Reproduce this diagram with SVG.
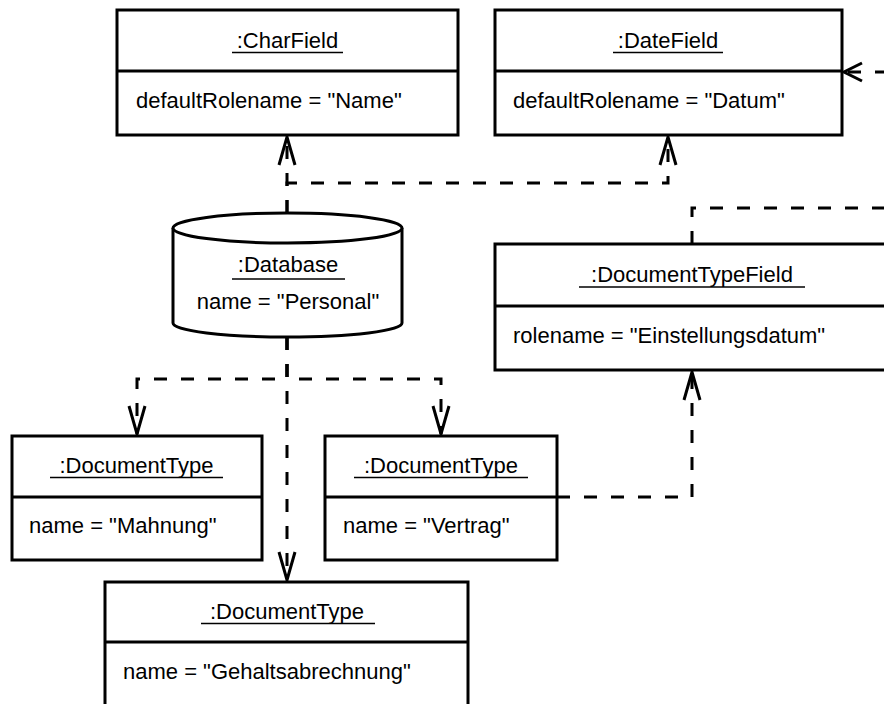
<svg xmlns="http://www.w3.org/2000/svg" width="884" height="704" viewBox="0 0 884 704">
  <style>
    .box { fill: #fff; stroke: #000; stroke-width: 3; }
    .sep { stroke: #000; stroke-width: 3; }
    .ul { stroke: #000; stroke-width: 1.5; }
    .t { font-family: "Liberation Sans", Arial, sans-serif; font-size: 22px; fill: #000; }
    .c { text-anchor: middle; }
    .dep { fill: none; stroke: #000; stroke-width: 3; stroke-dasharray: 13 14; marker-end: url(#open); }
  </style>
  <defs>
    <marker id="open" markerUnits="userSpaceOnUse" markerWidth="32" markerHeight="22" viewBox="-2 -3 32 22" refX="28" refY="8" orient="auto">
      <path d="M0,0 L28,8 L0,16" fill="none" stroke="#000" stroke-width="3" stroke-dasharray="none"/>
    </marker>
    <marker id="openShort" markerUnits="userSpaceOnUse" markerWidth="24" markerHeight="24" viewBox="-2 -3 24 24" refX="18" refY="9" orient="auto">
      <path d="M0,0 L18,9 L0,18" fill="none" stroke="#000" stroke-width="3" stroke-dasharray="none"/>
    </marker>
  </defs>

  <!-- dependency connectors -->
  <g id="connectors">
    <path class="dep" d="M287,213 V137"/>
    <path class="dep" d="M287,213 V183 H668 V137"/>
    <path class="dep" d="M287,337 V580"/>
    <path class="dep" d="M287,337 V379 H137 V434"/>
    <path class="dep" d="M287,337 V379 H441 V434"/>
    <path class="dep" d="M557,497 H692 V372"/>
    <path class="dep" d="M692,244 V208 H920 V72 H844" style="marker-end: url(#openShort)"/>
  </g>

  <g id="charField">
    <rect class="box" x="117" y="10" width="341" height="125"/>
    <line class="sep" x1="117" y1="71" x2="458" y2="71"/>
    <text class="t c" x="287.5" y="48">:CharField</text>
    <line class="ul" x1="232" y1="52.5" x2="343" y2="52.5"/>
    <text class="t" x="136" y="108">defaultRolename = "Name"</text>
  </g>

  <g id="dateField">
    <rect class="box" x="495" y="10" width="347" height="125"/>
    <line class="sep" x1="495" y1="71" x2="842" y2="71"/>
    <text class="t c" x="668" y="48">:DateField</text>
    <line class="ul" x1="613" y1="52.5" x2="723" y2="52.5"/>
    <text class="t" x="513" y="108">defaultRolename = "Datum"</text>
  </g>

  <g id="database">
    <path class="box" d="M173,228 V323 A114.5,14 0 0 0 402,323 V228"/>
    <ellipse class="box" cx="287.5" cy="228" rx="114.5" ry="15"/>
    <text class="t c" x="288" y="272">:Database</text>
    <line class="ul" x1="232" y1="279" x2="345" y2="279"/>
    <text class="t c" x="288" y="309">name = "Personal"</text>
  </g>

  <g id="documentTypeField">
    <rect class="box" x="495" y="244" width="394" height="126"/>
    <line class="sep" x1="495" y1="306" x2="889" y2="306"/>
    <text class="t c" x="692" y="282">:DocumentTypeField</text>
    <line class="ul" x1="579" y1="287" x2="805" y2="287"/>
    <text class="t" x="513" y="343">rolename = "Einstellungsdatum"</text>
  </g>

  <g id="docTypeMahnung">
    <rect class="box" x="12" y="436" width="250" height="124"/>
    <line class="sep" x1="12" y1="497" x2="262" y2="497"/>
    <text class="t c" x="136.5" y="473">:DocumentType</text>
    <line class="ul" x1="50" y1="477.5" x2="223" y2="477.5"/>
    <text class="t" x="29" y="533">name = "Mahnung"</text>
  </g>

  <g id="docTypeVertrag">
    <rect class="box" x="325" y="436" width="232" height="124"/>
    <line class="sep" x1="325" y1="497" x2="557" y2="497"/>
    <text class="t c" x="441" y="473">:DocumentType</text>
    <line class="ul" x1="354" y1="477.5" x2="528" y2="477.5"/>
    <text class="t" x="343" y="533">name = "Vertrag"</text>
  </g>

  <g id="docTypeGehalt">
    <rect class="box" x="105" y="582" width="363" height="128"/>
    <line class="sep" x1="105" y1="642" x2="468" y2="642"/>
    <text class="t c" x="287" y="619">:DocumentType</text>
    <line class="ul" x1="201" y1="623.5" x2="375" y2="623.5"/>
    <text class="t" x="123" y="679">name = "Gehaltsabrechnung"</text>
  </g>
</svg>
